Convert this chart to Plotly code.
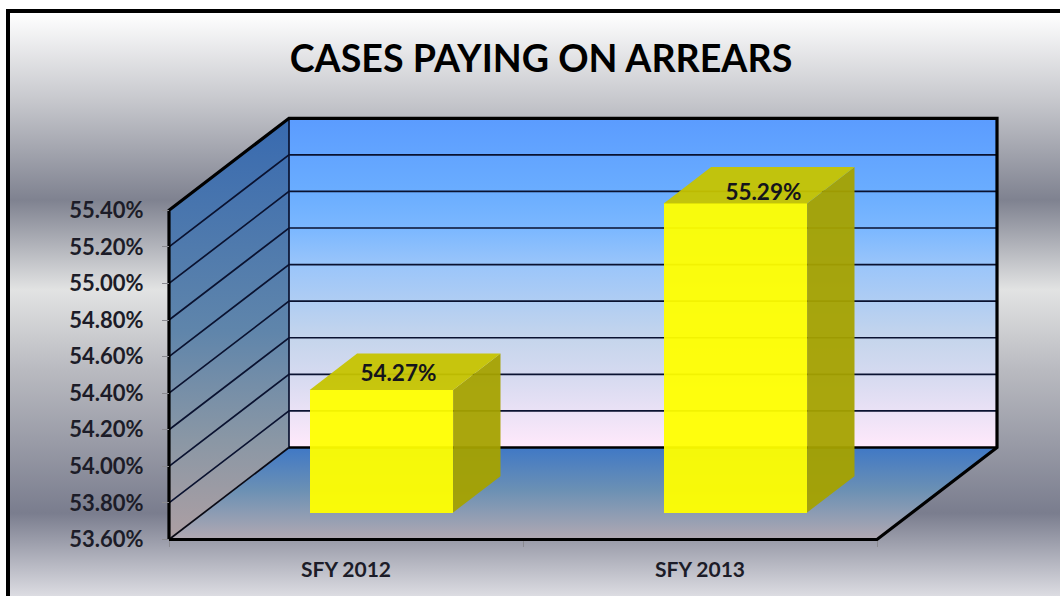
import plotly.graph_objects as go

# ---- data ----
categories = ["SFY 2012", "SFY 2013"]
values = [54.27, 55.29]
value_labels = ["54.27%", "55.29%"]
y_ticks = [53.6, 53.8, 54.0, 54.2, 54.4, 54.6, 54.8, 55.0, 55.2, 55.4]
y_tick_labels = ["53.60%", "53.80%", "54.00%", "54.20%", "54.40%",
                 "54.60%", "54.80%", "55.00%", "55.20%", "55.40%"]
title_text = "CASES PAYING ON ARREARS"

# ---- geometry (pixels of the page -> axis units) ----
W, H = 1060, 596
PX_X0, PX_XU = 346.0, 354.0      # pixel of category 0, pixels per category
PX_Y0, PX_YU = 539.5, 182.9      # pixel of 53.6, pixels per 1.0 value unit
x_range = [(0 - PX_X0) / PX_XU, (W - PX_X0) / PX_XU]
y_min = y_ticks[0]
y_max = y_ticks[-1]
y_range = [y_min - (H - PX_Y0) / PX_YU, y_min + PX_Y0 / PX_YU]

def X(px):
    return (px - PX_X0) / PX_XU

def Y(px):
    return y_min + (PX_Y0 - px) / PX_YU

DX = 120 / PX_XU   # x shift of full depth
DY = 92 / PX_YU    # y shift of full depth
x_lo, x_hi = -0.5, len(categories) - 0.5

def P(x, v, d):
    """project a point (category x, value v, depth d 0..1) on the axes"""
    return x + DX * d, v + DY * d

def poly(points, **kw):
    xs = [p[0] for p in points]
    ys = [p[1] for p in points]
    return go.Scatter(x=xs, y=ys, hoverinfo="skip", showlegend=False, **kw)

def grad(stops):
    """vertical gradient, stops given as (pixel y, colour)"""
    a, b = stops[0][0], stops[-1][0]
    return dict(type="vertical", start=Y(a), stop=Y(b),
                colorscale=[[(s - a) / (b - a), c] for s, c in stops])

fig = go.Figure()

# page background
fig.add_trace(poly(
    [(X(8), Y(11)), (X(W + 5), Y(11)), (X(W + 5), Y(H + 5)), (X(8), Y(H + 5)), (X(8), Y(11))],
    mode="none", fill="toself",
    fillgradient=grad([(13, "#ffffff"), (100, "#c7c8cd"), (200, "#7f8290"), (290, "#e2e3e3"),
                       (370, "#b9bac0"), (513, "#7a7d8e"), (596, "#dcdce2")])))

# side wall
fig.add_trace(poly(
    [P(x_lo, y_min, 0), P(x_lo, y_max, 0), P(x_lo, y_max, 1), P(x_lo, y_min, 1), P(x_lo, y_min, 0)],
    mode="none", fill="toself",
    fillgradient=grad([(119, "#386ab0"), (330, "#5f85ab"), (440, "#8a97a5"), (538, "#ad9fa3")])))
# back wall
fig.add_trace(poly(
    [P(x_lo, y_min, 1), P(x_lo, y_max, 1), P(x_hi, y_max, 1), P(x_hi, y_min, 1), P(x_lo, y_min, 1)],
    mode="none", fill="toself",
    fillgradient=grad([(119, "#5b9cff"), (192, "#6aadff"), (230, "#7cb8ff"), (265, "#9ac5fa"),
                       (338, "#c5d5ec"), (375, "#d5daf0"), (447, "#ffe9fb")])))
# floor
fig.add_trace(poly(
    [P(x_lo, y_min, 0), P(x_lo, y_min, 1), P(x_hi, y_min, 1), P(x_hi, y_min, 0), P(x_lo, y_min, 0)],
    mode="none", fill="toself",
    fillgradient=grad([(447, "#3f78c6"), (490, "#6b90b4"), (538, "#b0a8b2")])))

# gridlines on the walls
for v in y_ticks[1:-1]:
    fig.add_trace(poly([P(x_lo, v, 0), P(x_lo, v, 1), P(x_hi, v, 1)],
                       mode="lines", line=dict(color="#0a1230", width=1.7)))
fig.add_trace(poly([P(x_lo, y_min, 0), P(x_lo, y_min, 1)],
                   mode="lines", line=dict(color="#0a0a14", width=1.7)))
fig.add_trace(poly([P(x_lo, y_min, 1), P(x_lo, y_max, 1)],
                   mode="lines", line=dict(color="#0a1230", width=1.7)))
# thick outline
fig.add_trace(poly([P(x_lo, y_min, 0), P(x_lo, y_max, 0), P(x_lo, y_max, 1), P(x_hi, y_max, 1),
                    P(x_hi, y_min, 1), P(x_hi, y_min, 0), P(x_lo, y_min, 0)],
                   mode="lines", line=dict(color="#000000", width=3.2)))
fig.add_trace(poly([P(x_lo, y_min, 1), P(x_hi, y_min, 1)],
                   mode="lines", line=dict(color="#000000", width=2.5)))

# ---- bars, on an overlaid pair of axes (bars paint below scatters of the same subplot) ----
D0, D1 = 0.295, 0.69      # depth span of the bars
BAR_W = 0.405
lift = 27 / PX_YU         # the bars stand deeper in the box than its front plane
base = y_min + lift
cx = [i + DX * D0 for i in range(len(categories))]
tops = [v + lift for v in values]

fig.add_trace(go.Bar(x=cx, y=[v - y_min for v in values], base=base, width=BAR_W,
                     marker=dict(color="rgba(255,255,0,0.95)", line=dict(width=0)),
                     xaxis="x2", yaxis="y2", hoverinfo="skip", showlegend=False))

for i, t in enumerate(tops):
    left = cx[i] - BAR_W / 2
    right = cx[i] + BAR_W / 2
    d = D1 - D0
    # side face
    fig.add_trace(poly([(right, base), (right, t), (right + DX * d, t + DY * d),
                        (right + DX * d, base + DY * d), (right, base)],
                       mode="none", fill="toself", fillcolor="rgba(165,162,0,0.95)",
                       xaxis="x2", yaxis="y2"))
    # top face
    fig.add_trace(poly([(left, t), (right, t), (right + DX * d, t + DY * d),
                        (left + DX * d, t + DY * d), (left, t)],
                       mode="none", fill="toself", fillcolor="rgba(198,196,0,0.95)",
                       xaxis="x2", yaxis="y2"))

# value labels
label_dx = [17 / PX_XU, 28 / PX_XU]
label_dy = [15 / PX_YU, 9 / PX_YU]
fig.add_trace(go.Scatter(
    x=[cx[i] + label_dx[i] for i in range(len(values))],
    y=[tops[i] + label_dy[i] for i in range(len(values))],
    text=value_labels, mode="text", textposition="middle center",
    textfont=dict(family="Lato", size=22.5, color="#14141c", weight=700),
    xaxis="x2", yaxis="y2", hoverinfo="skip", showlegend=False))

axis_font = dict(family="Lato", size=22, color="#1c1c28", weight=700)
fig.update_layout(
    width=W, height=H, autosize=False,
    margin=dict(l=0, r=0, t=0, b=0, pad=0),
    paper_bgcolor="#ffffff", plot_bgcolor="rgba(0,0,0,0)",
    showlegend=False, bargap=0,
    title=dict(text=title_text, x=541 / W, y=1 - 59 / H, xanchor="center", yanchor="middle",
               font=dict(family="Lato", size=37.6, color="#000000", weight=700)),
    xaxis=dict(range=x_range, domain=[0, 1], anchor="free", position=(H - 540) / H,
               tickmode="array", tickvals=list(range(len(categories))), ticktext=categories,
               ticks="", showgrid=False, zeroline=False, showline=False,
               ticklabelstandoff=15, tickfont=dict(family="Lato", size=21, color="#1c1c28", weight=700),
               minor=dict(tickmode="array", tickvals=[x_lo, 0.5, x_hi], ticks="outside",
                          ticklen=6, tickwidth=1, tickcolor="#8a8a90", showgrid=False)),
    yaxis=dict(range=y_range, domain=[0, 1], anchor="free", position=169 / W,
               tickmode="array", tickvals=y_ticks, ticktext=y_tick_labels,
               ticks="outside", ticklen=7, tickwidth=1, tickcolor="#8a8a90",
               showgrid=False, zeroline=False, showline=False,
               ticklabelstandoff=14, tickfont=axis_font),
    xaxis2=dict(range=x_range, overlaying="x", visible=False),
    yaxis2=dict(range=y_range, overlaying="y", visible=False),
    shapes=[dict(type="rect", xref="paper", yref="paper",
                 x0=8 / W, x1=1.02, y0=-0.02, y1=1 - 11 / H,
                 line=dict(color="#000000", width=4), fillcolor="rgba(0,0,0,0)", layer="above")],
)

fig.write_html("out.html", config=dict(displayModeBar=False),
               post_script="document.body.style.margin='0';document.documentElement.style.overflow='hidden';")
